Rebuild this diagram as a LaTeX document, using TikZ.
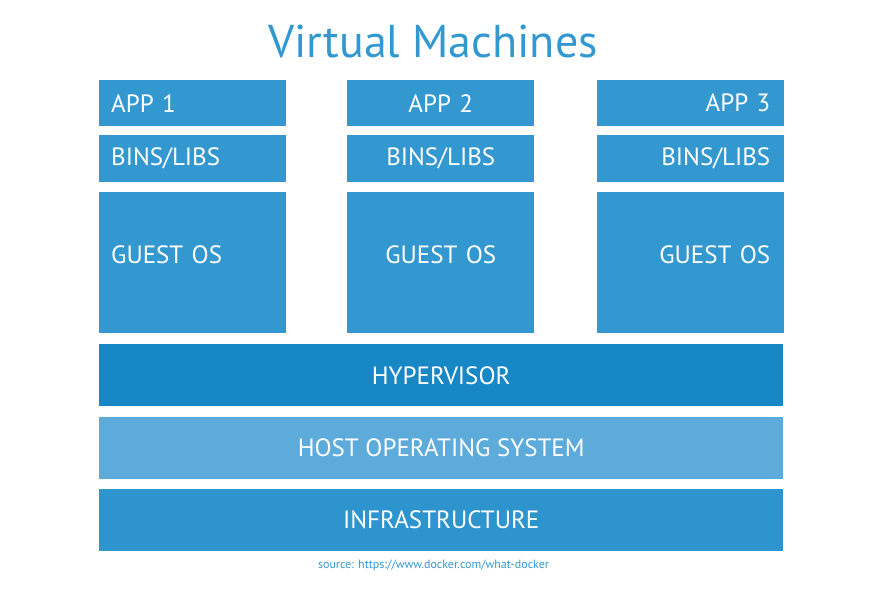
\documentclass[tikz,border=0pt]{standalone}
\usepackage{fontspec}
\setmainfont{PT Sans}
\usepackage{tikz}
\usetikzlibrary{positioning}

\definecolor{vmblue}{HTML}{3498D0}
\definecolor{hypblue}{HTML}{1787C6}
\definecolor{hostblue}{HTML}{5DABDA}
\definecolor{infrablue}{HTML}{2D94CE}

\begin{document}
\begin{tikzpicture}[x=1pt,y=-1pt,
    vmbox/.style={fill=vmblue, text=white, inner xsep=12pt, inner ysep=0pt,
        text width=163pt, font=\fontsize{25}{29}\selectfont},
    rightbox/.style={inner xsep=14pt, text width=159pt, align=right},
    layer/.style={text=white, minimum width=684pt, minimum height=62pt,
        inner sep=0pt, font=\fontsize{25}{29}\selectfont},
    approw/.style={vmbox, minimum height=46pt},
    binsrow/.style={vmbox, minimum height=47pt},
    guestrow/.style={vmbox, minimum height=141pt, text depth=16pt}]
    \useasboundingbox (0,0) rectangle (888,592);

    \node[font=\fontsize{46}{50}\selectfont, text=vmblue, anchor=base] (title) at (433,57) {Virtual Machines};

    % three virtual machines
    \node[approw, anchor=north west, align=left] (app1) at (99,80) {APP 1};
    \node[binsrow, below=8pt of app1, align=left] (bins1) {BINS/LIBS};
    \node[guestrow, below=10pt of bins1, align=left] (guest1) {GUEST OS};

    \node[approw, anchor=north west, align=center] (app2) at (347,80) {APP 2};
    \node[binsrow, below=8pt of app2, align=center] (bins2) {BINS/LIBS};
    \node[guestrow, below=10pt of bins2, align=center] (guest2) {GUEST OS};

    \node[approw, rightbox, anchor=north west] (app3) at (597,80) {APP 3};
    \node[binsrow, rightbox, below=8pt of app3] (bins3) {BINS/LIBS};
    \node[guestrow, rightbox, below=10pt of bins3] (guest3) {GUEST OS};

    % shared layers
    \node[layer, fill=hypblue, below right=11pt and 0pt of guest1.south west] (hyper) {HYPERVISOR};
    \node[layer, fill=hostblue, below=10pt of hyper] (hostos) {HOST OPERATING SYSTEM};
    \node[layer, fill=infrablue, below=10pt of hostos] (infra) {INFRASTRUCTURE};

    \node[font=\fontsize{12}{14}\selectfont, text=vmblue, anchor=base] (source) at (433.5,568) {source: https://www.docker.com/what-docker};
\end{tikzpicture}
\end{document}
